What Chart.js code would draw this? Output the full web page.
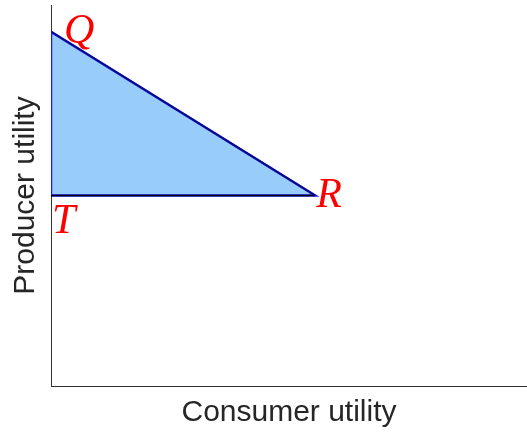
<!DOCTYPE html>
<html>
<head>
<meta charset="utf-8">
<script src="https://cdn.jsdelivr.net/npm/chart.js@4.4.1/dist/chart.umd.min.js"></script>
<style>
  html, body { margin: 0; padding: 0; background: #fff; }
  #wrap { width: 527px; height: 434px; position: relative; }
</style>
</head>
<body>
<div id="wrap"><canvas id="grafico"></canvas></div>
<script>
// Vertices of the utility region (Q, R, T)
const vertexLabels = ['Q', 'R', 'T'];
const consumerUtil = [0, 0.555, 0];
const producerUtil = [0.93, 0.5, 0.5];

const pts = consumerUtil.map((x, i) => ({ x: x, y: producerUtil[i] }));
const Q = pts[0], R = pts[1], T = pts[2];

// offsets for the red point labels (px)
const labelOffsets = { Q: [13, 11], R: [1, 11], T: [1, 37] };

const pointLabels = {
    id: 'pointLabels',
    afterDatasetsDraw(chart) {
        const { ctx, scales: { x, y } } = chart;
        ctx.save();
        ctx.fillStyle = '#ff0000';
        ctx.font = 'italic 42px "Liberation Serif", "DejaVu Serif", serif';
        ctx.textBaseline = 'alphabetic';
        ctx.textAlign = 'left';
        vertexLabels.forEach((lab, i) => {
            const off = labelOffsets[lab];
            ctx.fillText(lab, x.getPixelForValue(consumerUtil[i]) + off[0], y.getPixelForValue(producerUtil[i]) + off[1]);
        });
        ctx.restore();
    }
};

const ctx = document.getElementById('grafico').getContext('2d');
new Chart(ctx, {
    type: 'line',
    data: {
        datasets: [
            {
                data: [T, Q, R, T],
                fill: 'shape',
                backgroundColor: '#99cdf9',
                borderColor: '#1a1aff',
                borderWidth: 2.5,
                pointRadius: 0,
                tension: 0,
                order: 3
            },
            {
                data: [Q, R],
                fill: false,
                borderColor: '#0a0a6e',
                borderWidth: 1.5,
                pointRadius: 0,
                order: 1
            },
            {
                data: [T, R],
                fill: false,
                borderColor: '#000000',
                borderWidth: 1.5,
                pointRadius: 0,
                order: 1
            }
        ]
    },
    options: {
        responsive: true,
        maintainAspectRatio: false,
        animation: false,
        layout: { padding: { top: 5, right: 0, bottom: 0, left: 0 } },
        plugins: {
            legend: { display: false },
            tooltip: { enabled: false }
        },
        scales: {
            x: {
                type: 'linear',
                min: 0,
                max: 1,
                ticks: { display: false },
                grid: { display: false, drawTicks: false },
                border: { display: true, color: '#333333', width: 1 },
                title: {
                    display: true,
                    text: 'Consumer utility',
                    color: '#262626',
                    font: { family: '"Liberation Sans", Arial, sans-serif', size: 30 },
                    padding: { top: 9, bottom: 3 }
                }
            },
            y: {
                type: 'linear',
                min: 0,
                max: 1,
                ticks: { display: false },
                grid: { display: false, drawTicks: false },
                border: { display: true, color: '#333333', width: 1 },
                title: {
                    display: true,
                    text: 'Producer utility',
                    color: '#262626',
                    font: { family: '"Liberation Sans", Arial, sans-serif', size: 30 },
                    padding: { top: 8, bottom: 7 }
                }
            }
        }
    },
    plugins: [pointLabels]
});
</script>
</body>
</html>
